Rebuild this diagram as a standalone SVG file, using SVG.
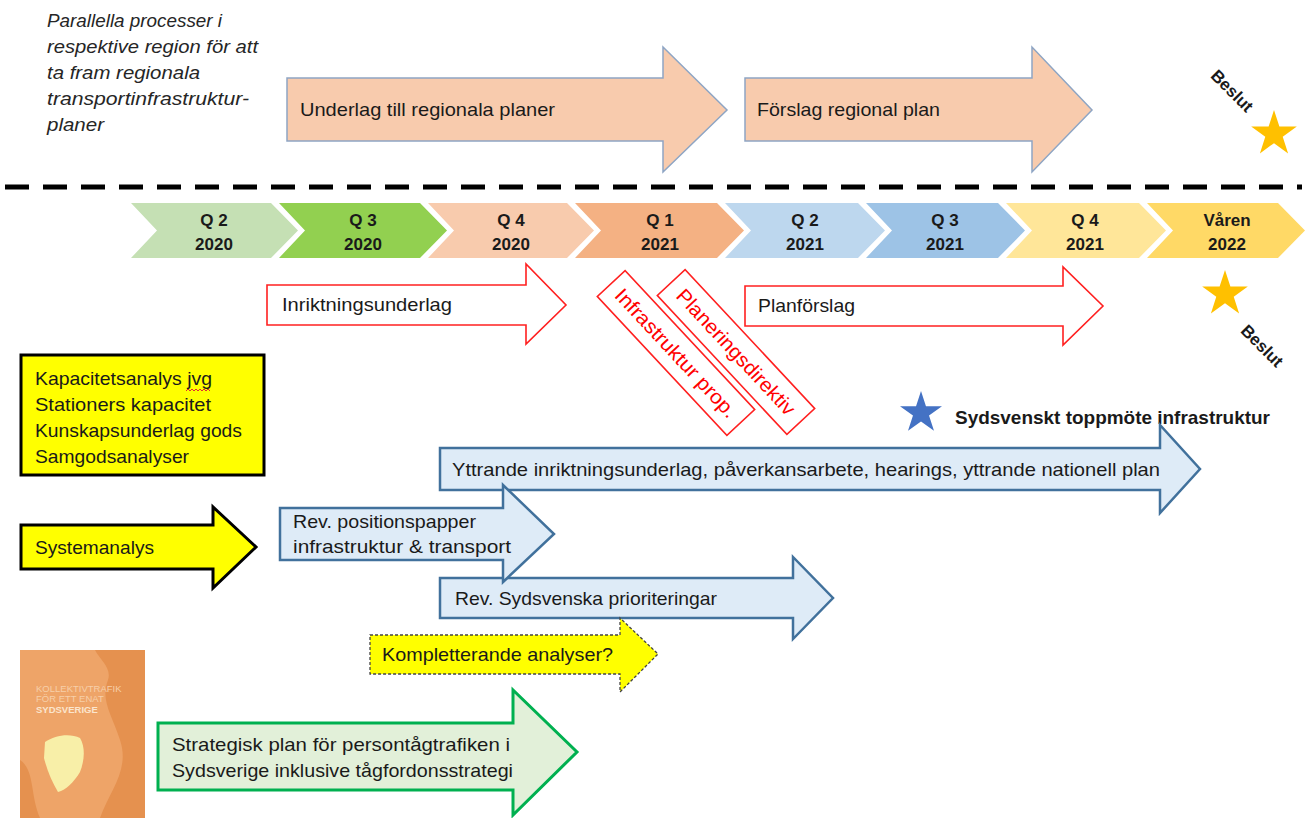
<svg xmlns="http://www.w3.org/2000/svg" width="1307" height="818" viewBox="0 0 1307 818">
<style>
text{font-family:"Liberation Sans",Arial,sans-serif;fill:#1a1a1a}
.t{font-size:18.5px}
.it{font-size:19px;font-style:italic;fill:#262626}
.chv{font-size:17px;font-weight:bold;text-anchor:middle}
.peach{fill:#F8CBAD;stroke:#8EA5C4;stroke-width:1.5}
.redA{fill:#fff;stroke:#FF2020;stroke-width:1.6}
.blueA{fill:#DEEBF7;stroke:#41719C;stroke-width:2.5}
.red{fill:#FF0000;font-size:20px;text-anchor:middle}
.bold{font-weight:bold}
.cov{fill:#F7CFA8;font-size:9.5px}
</style>
<defs>
<polygon id="star" points="0,-24 5.39,-7.42 22.83,-7.42 8.72,2.83 14.11,19.42 0,9.17 -14.11,19.42 -8.72,2.83 -22.83,-7.42 -5.39,-7.42"/>
</defs>
<rect width="1307" height="818" fill="#fff"/>

<g id="intro-text">
<text class="it" x="47" y="27" textLength="175" lengthAdjust="spacingAndGlyphs">Parallella processer i</text>
<text class="it" x="47" y="53" textLength="211" lengthAdjust="spacingAndGlyphs">respektive region för att</text>
<text class="it" x="47" y="79" textLength="153" lengthAdjust="spacingAndGlyphs">ta fram regionala</text>
<text class="it" x="47" y="105" textLength="202" lengthAdjust="spacingAndGlyphs">transportinfrastruktur-</text>
<text class="it" x="47" y="131" textLength="57" lengthAdjust="spacingAndGlyphs">planer</text>
</g>

<g id="underlag-regionala">
<polygon class="peach" points="287,78 663,78 663,47 727,110 663,172 663,141 287,141"/>
<text class="t" x="300" y="116" textLength="255" lengthAdjust="spacingAndGlyphs">Underlag till regionala planer</text>
</g>
<g id="forslag-regional">
<polygon class="peach" points="745,78 1032,78 1032,47 1092,110 1032,172 1032,141 745,141"/>
<text class="t" x="757" y="116" textLength="183" lengthAdjust="spacingAndGlyphs">Förslag regional plan</text>
</g>

<g id="beslut-top">
<text class="bold" font-size="17" text-anchor="middle" transform="translate(1228,95) rotate(45)">Beslut</text>
<use href="#star" transform="translate(1274,134)" fill="#FFC000"/>
</g>

<g id="divider">
<line x1="5" y1="187" x2="1302" y2="187" stroke="#000" stroke-width="5" stroke-dasharray="24 14"/>
</g>

<g id="timeline">
<g id="q2-2020"><polygon fill="#C5E0B4" points="131,203 271,203 298,230.5 271,258 131,258 157,230.5"/><text class="chv" x="214" y="226">Q 2</text><text class="chv" x="214" y="250">2020</text></g>
<g id="q3-2020"><polygon fill="#92D050" points="279,203 420,203 447,230.5 420,258 279,258 305,230.5"/><text class="chv" x="363" y="226">Q 3</text><text class="chv" x="363" y="250">2020</text></g>
<g id="q4-2020"><polygon fill="#F8CBAD" points="428,203 567,203 594,230.5 567,258 428,258 454,230.5"/><text class="chv" x="511" y="226">Q 4</text><text class="chv" x="511" y="250">2020</text></g>
<g id="q1-2021"><polygon fill="#F4B183" points="575,203 717,203 744,230.5 717,258 575,258 601,230.5"/><text class="chv" x="660" y="226">Q 1</text><text class="chv" x="660" y="250">2021</text></g>
<g id="q2-2021"><polygon fill="#BDD7EE" points="725,203 858,203 885,230.5 858,258 725,258 751,230.5"/><text class="chv" x="805" y="226">Q 2</text><text class="chv" x="805" y="250">2021</text></g>
<g id="q3-2021"><polygon fill="#9DC3E6" points="866,203 998,203 1025,230.5 998,258 866,258 892,230.5"/><text class="chv" x="945" y="226">Q 3</text><text class="chv" x="945" y="250">2021</text></g>
<g id="q4-2021"><polygon fill="#FFE699" points="1006,203 1139,203 1166,230.5 1139,258 1006,258 1032,230.5"/><text class="chv" x="1085" y="226">Q 4</text><text class="chv" x="1085" y="250">2021</text></g>
<g id="varen-2022"><polygon fill="#FFD966" points="1147,203 1278,203 1305,230.5 1278,258 1147,258 1173,230.5"/><text class="chv" x="1227" y="226">Våren</text><text class="chv" x="1227" y="250">2022</text></g>
</g>

<g id="inriktningsunderlag">
<polygon class="redA" points="267,285 526,285 526,264 566,305 526,344 526,325 267,325"/>
<text class="t" x="282" y="311" textLength="170" lengthAdjust="spacingAndGlyphs">Inriktningsunderlag</text>
</g>
<g id="planforslag">
<polygon class="redA" points="745,286 1063,286 1063,267 1103,306 1063,345 1063,326 745,326"/>
<text class="t" x="758" y="312" textLength="97" lengthAdjust="spacingAndGlyphs">Planförslag</text>
</g>

<g id="infrastruktur-prop" transform="translate(676,353) rotate(47)">
<rect x="-95" y="-19" width="190" height="38" fill="#fff" stroke="#FF2020" stroke-width="1.6"/>
<text class="red" x="0" y="7" textLength="168" lengthAdjust="spacingAndGlyphs">Infrastruktur prop.</text>
</g>
<g id="planeringsdirektiv" transform="translate(736,352) rotate(47)">
<rect x="-95" y="-19" width="190" height="38" fill="#fff" stroke="#FF2020" stroke-width="1.6"/>
<text class="red" x="0" y="7" textLength="164" lengthAdjust="spacingAndGlyphs">Planeringsdirektiv</text>
</g>

<g id="beslut-bottom">
<use href="#star" transform="translate(1225,294)" fill="#FFC000"/>
<text class="bold" font-size="17" text-anchor="middle" transform="translate(1258,350) rotate(45)">Beslut</text>
</g>

<g id="analysbox">
<rect x="21" y="355" width="243" height="120" fill="#FFFF00" stroke="#000" stroke-width="3"/>
<text class="t" x="35" y="385" textLength="177" lengthAdjust="spacingAndGlyphs">Kapacitetsanalys jvg</text>
<text class="t" x="35" y="411" textLength="176" lengthAdjust="spacingAndGlyphs">Stationers kapacitet</text>
<text class="t" x="35" y="437" textLength="207" lengthAdjust="spacingAndGlyphs">Kunskapsunderlag gods</text>
<text class="t" x="35" y="463" textLength="154" lengthAdjust="spacingAndGlyphs">Samgodsanalyser</text>
<polyline points="186,391 188,389 190,391 192,389 194,391 196,389 198,391 200,389 202,391 204,389 206,391 208,389 210,391" fill="none" stroke="#E03030" stroke-width="1"/>
</g>

<g id="toppmote">
<use href="#star" transform="translate(921,413) scale(0.92)" fill="#4472C4"/>
<text class="bold" font-size="18.5" x="955" y="424" textLength="315" lengthAdjust="spacingAndGlyphs">Sydsvenskt toppmöte infrastruktur</text>
</g>

<g id="yttrande">
<polygon class="blueA" points="440,448 1160,448 1160,425 1200,469 1160,513 1160,490 440,490"/>
<text class="t" x="452" y="476" textLength="708" lengthAdjust="spacingAndGlyphs">Yttrande inriktningsunderlag, påverkansarbete, hearings, yttrande nationell plan</text>
</g>
<g id="sydsvenska-prioriteringar">
<polygon class="blueA" points="440,578 793,578 793,557 833,598 793,639 793,618 440,618"/>
<text class="t" x="455" y="605" textLength="262" lengthAdjust="spacingAndGlyphs">Rev. Sydsvenska prioriteringar</text>
</g>
<g id="positionspapper">
<polygon class="blueA" points="280,508 503,508 503,485 554,534 503,582 503,560 280,560"/>
<text class="t" x="293" y="528" textLength="183" lengthAdjust="spacingAndGlyphs">Rev. positionspapper</text>
<text class="t" x="293" y="553" textLength="218" lengthAdjust="spacingAndGlyphs">infrastruktur &amp; transport</text>
</g>

<g id="systemanalys">
<polygon points="21,525 213,525 213,507 256,547 213,588 213,569 21,569" fill="#FFFF00" stroke="#000" stroke-width="3"/>
<text class="t" x="35" y="554" textLength="119" lengthAdjust="spacingAndGlyphs">Systemanalys</text>
</g>

<g id="kompletterande">
<polygon points="370,635 620,635 620,618 658,654 620,692 620,674 370,674" fill="#FFFF00" stroke="#444" stroke-width="1.3" stroke-dasharray="3 2"/>
<text class="t" x="382" y="661" textLength="231" lengthAdjust="spacingAndGlyphs">Kompletterande analyser?</text>
</g>

<g id="bokomslag">
<rect x="20" y="650" width="125" height="168" fill="#EEA468"/>
<path d="M95,650 L145,650 L145,818 L100,818 C110,790 130,770 120,740 C112,715 100,700 108,680 C112,668 100,660 95,650 Z" fill="#E5914F"/>
<path d="M20,760 C35,770 30,795 40,818 L20,818 Z" fill="#E5914F"/>
<path d="M45,742 C55,735 70,733 80,738 C86,748 84,762 80,772 C74,782 66,790 58,792 C52,782 47,770 44,758 Z" fill="#F8EFA8"/>
<text class="cov" x="36" y="692">KOLLEKTIVTRAFIK</text>
<text class="cov" x="36" y="702">FÖR ETT ENAT</text>
<text class="cov" x="36" y="713" style="font-weight:bold;fill:#FBE5CD">SYDSVERIGE</text>
</g>

<g id="strategisk-plan">
<polygon points="158,723 513,723 513,690 577,752 513,815 513,790 158,790" fill="#E2F0D9" stroke="#00B050" stroke-width="3"/>
<text class="t" x="172" y="751" textLength="338" lengthAdjust="spacingAndGlyphs">Strategisk plan för persontågtrafiken i</text>
<text class="t" x="172" y="777" textLength="341" lengthAdjust="spacingAndGlyphs">Sydsverige inklusive tågfordonsstrategi</text>
</g>
</svg>
